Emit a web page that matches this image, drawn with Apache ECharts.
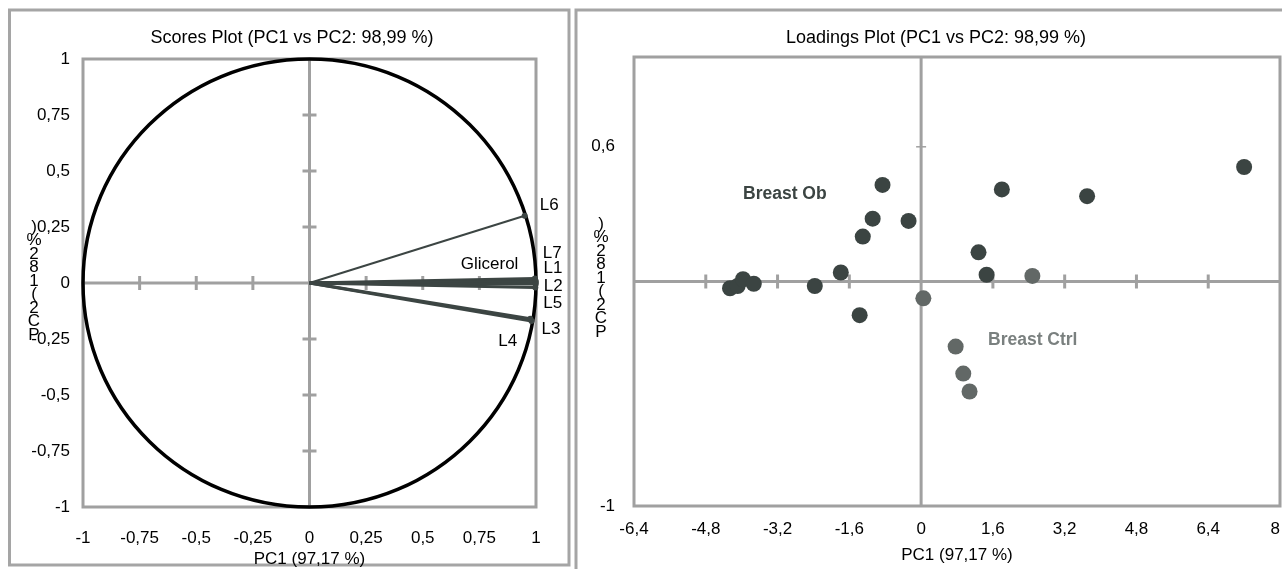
<!DOCTYPE html>
<html>
<head>
<meta charset="utf-8">
<title>PCA scores / loadings</title>
<script src="https://cdn.jsdelivr.net/npm/echarts@6/dist/echarts.min.js"></script>
<style>
  html, body { margin: 0; padding: 0; background: #fff; }
  #chart { width: 1282px; height: 569px; }
</style>
</head>
<body>
<div id="chart"></div>
<script>
// tick labels
var scoreTicks = [-1, -0.75, -0.5, -0.25, 0, 0.25, 0.5, 0.75, 1];
var loadXTicks = [-6.4, -4.8, -3.2, -1.6, 0, 1.6, 3.2, 4.8, 6.4, 8];
var loadYTicks = [-1, 0.6];

// scores plot: vectors from origin (PC1, PC2)
var vecNames = ['L6', 'L7', 'L1', 'Glicerol', 'L2', 'L5', 'L3', 'L4'];
var vecPC1 = [0.95, 0.995, 0.998, 0.999, 0.999, 0.997, 0.98, 0.975];
var vecPC2 = [0.30, 0.02, 0.01, 0.005, -0.005, -0.02, -0.17, -0.16];

// loadings plot: samples
var obPC1 = [-0.86, -1.08, -0.28, -1.30, -1.79, -2.37, -1.37, -4.26, -4.09, -3.97, -3.73, 7.2, 1.8, 3.7, 1.28, 1.46];
var obPC2 = [0.43, 0.28, 0.27, 0.20, 0.04, -0.02, -0.15, -0.03, -0.02, 0.01, -0.01, 0.51, 0.41, 0.38, 0.13, 0.03];
var ctrlPC1 = [0.05, 2.48, 0.77, 0.94, 1.08];
var ctrlPC2 = [-0.075, 0.025, -0.29, -0.41, -0.49];

var FONT = '"Liberation Sans", Arial, sans-serif'
  , GRAY = '#a0a0a0'
  , DARK = '#3b4442'
  , LIGHT = '#626866';

// label offsets for the vector names (px)
var labelShift = [[15, -10], [8, -25], [8, -12], [-75, -18], [8, 2], [8, 16], [10, 8], [-32, 22]];

var chart = echarts.init(document.getElementById('chart'));

function fmt(v) {
  return String(Math.round(v * 100) / 100).replace('.', ',');
}

function pairs(xs, ys) {
  return xs.map(function (x, i) { return [x, ys[i]]; });
}

function stacked(name) {
  // y-axis name is drawn with upright glyphs stacked bottom to top
  return name.replace(/[ ,]/g, '').split('').reverse().join('\n');
}

function xAxisOf(grid, ticks, margin, gap, alignMax) {
  return {
    gridIndex: grid, type: 'value',
    min: ticks[0], max: ticks[ticks.length - 1],
    axisLine: {show: false}, axisTick: {show: false}, splitLine: {show: false},
    axisLabel: {customValues: ticks, formatter: fmt, margin: margin, fontSize: 17, color: '#000', fontFamily: FONT,
      alignMaxLabel: alignMax || null},
    name: 'PC1 (97,17 %)', nameLocation: 'middle', nameGap: gap, nameMoveOverlap: false,
    nameTextStyle: {fontSize: 17, color: '#000', fontFamily: FONT}
  };
}

function yAxisOf(grid, ticks, margin) {
  return {
    gridIndex: grid, type: 'value', min: -1, max: 1,
    axisLine: {show: false}, axisTick: {show: false}, splitLine: {show: false},
    axisLabel: {customValues: ticks, formatter: fmt, margin: margin, fontSize: 17, color: '#000', fontFamily: FONT}
  };
}

// zero lines with small cross ticks
function crossAxes(grid, xTicks, yTicks, yRange, tk) {
  var xr = [xTicks[0], xTicks[xTicks.length - 1]];
  var inner = function (t, r) {
    return t.filter(function (v) { return v !== 0 && v !== r[0] && v !== r[1]; });
  };
  return {
    type: 'custom', xAxisIndex: grid, yAxisIndex: grid, silent: true, z: 1,
    data: [[0, 0]],
    renderItem: function (params, api) {
      var kids = [];
      var a = api.coord([xr[0], 0]), b = api.coord([xr[1], 0]);
      var c = api.coord([0, yRange[0]]), d = api.coord([0, yRange[1]]);
      kids.push({type: 'line', shape: {x1: a[0], y1: a[1], x2: b[0], y2: b[1]}, style: {stroke: GRAY, lineWidth: 3}});
      kids.push({type: 'line', shape: {x1: c[0], y1: c[1], x2: d[0], y2: d[1]}, style: {stroke: GRAY, lineWidth: 3}});
      inner(xTicks, xr).forEach(function (v) {
        var p = api.coord([v, 0]);
        kids.push({type: 'line', shape: {x1: p[0], y1: p[1] - tk[0], x2: p[0], y2: p[1] + tk[0]}, style: {stroke: GRAY, lineWidth: tk[1]}});
      });
      inner(yTicks, yRange).forEach(function (v) {
        var p = api.coord([0, v]);
        kids.push({type: 'line', shape: {x1: p[0] - tk[2], y1: p[1], x2: p[0] + tk[2], y2: p[1]}, style: {stroke: GRAY, lineWidth: tk[3]}});
      });
      return {type: 'group', children: kids};
    }
  };
}

function txt(x, y, text, extra) {
  var st = {text: text, fill: '#000', fontSize: 17, fontFamily: FONT,
    textAlign: 'center', textVerticalAlign: 'middle', align: 'center', verticalAlign: 'middle'};
  for (var k in extra) st[k] = extra[k];
  return {type: 'text', x: x, y: y, z: 10, style: st};
}

var option = {
  backgroundColor: '#fff',
  animation: false,
  grid: [
    {left: 83, top: 59, width: 453, height: 448, outerBoundsMode: 'none', show: true, borderColor: GRAY, borderWidth: 3, backgroundColor: 'transparent'},
    {left: 634, top: 57, width: 646, height: 449, outerBoundsMode: 'none', show: true, borderColor: GRAY, borderWidth: 3, backgroundColor: 'transparent'}
  ],
  xAxis: [xAxisOf(0, scoreTicks, 23, 44), xAxisOf(1, loadXTicks, 15, 41, 'right')],
  yAxis: [yAxisOf(0, scoreTicks, 13), yAxisOf(1, loadYTicks, 19)],
  graphic: [
    // panel frames
    {type: 'rect', shape: {x: 9.5, y: 10, width: 559.5, height: 555}, style: {fill: 'none', stroke: '#a5a5a5', lineWidth: 3}, z: 0},
    {type: 'rect', shape: {x: 576, y: 10, width: 720, height: 600}, style: {fill: 'none', stroke: '#a5a5a5', lineWidth: 3}, z: 0},
    txt(292, 38, 'Scores Plot (PC1 vs PC2: 98,99 %)', {fontSize: 18}),
    txt(936, 38, 'Loadings Plot (PC1 vs PC2: 98,99 %)', {fontSize: 18}),
    txt(34, 281, stacked('PC2 (1,82 %)'), {fontSize: 17, lineHeight: 13.5}),
    txt(601, 278, stacked('PC2 (1,82 %)'), {fontSize: 17, lineHeight: 13.5}),
    txt(743, 194, 'Breast Ob', {fontWeight: 'bold', fontSize: 17.5, fill: DARK, textAlign: 'left', align: 'left'}),
    txt(988, 340, 'Breast Ctrl', {fontWeight: 'bold', fontSize: 17.5, fill: '#7a807f', textAlign: 'left', align: 'left'})
  ],
  series: [
    crossAxes(0, scoreTicks, scoreTicks, [-1, 1], [7, 3, 7, 3]),
    crossAxes(1, loadXTicks, loadYTicks, [-1, 1], [7, 3, 5, 1.5]),
    {
      // unit circle
      type: 'custom', xAxisIndex: 0, yAxisIndex: 0, silent: true, z: 3,
      data: [[0, 0, 1]],
      renderItem: function (params, api) {
        var c = api.coord([api.value(0), api.value(1)]);
        var s = api.size([api.value(2), api.value(2)]);
        return {type: 'ellipse', shape: {cx: c[0], cy: c[1], rx: s[0], ry: s[1]}, style: {fill: 'none', stroke: '#000', lineWidth: 3.5}};
      }
    },
    {
      // variable vectors
      type: 'custom', xAxisIndex: 0, yAxisIndex: 0, silent: true, z: 4,
      data: vecNames.map(function (n, i) { return [vecPC1[i], vecPC2[i]]; }),
      renderItem: function (params, api) {
        var i = params.dataIndex;
        var o = api.coord([0, 0]);
        var p = api.coord([api.value(0), api.value(1)]);
        var sh = labelShift[i];
        return {type: 'group', children: [
          {type: 'line', shape: {x1: o[0], y1: o[1], x2: p[0], y2: p[1]}, style: {stroke: '#3c4543', lineWidth: i === 0 ? 2 : 3}},
          {type: 'circle', shape: {cx: p[0], cy: p[1], r: 3}, style: {fill: '#3c4543'}},
          {type: 'text', x: p[0] + sh[0], y: p[1] + sh[1], style: {text: vecNames[i], fill: '#000', fontSize: 17, fontFamily: FONT, align: 'left', verticalAlign: 'middle'}}
        ]};
      }
    },
    {
      name: 'Breast Ob', type: 'scatter', xAxisIndex: 1, yAxisIndex: 1, z: 5,
      symbolSize: 16, itemStyle: {color: DARK, opacity: 1},
      data: pairs(obPC1, obPC2)
    },
    {
      name: 'Breast Ctrl', type: 'scatter', xAxisIndex: 1, yAxisIndex: 1, z: 5,
      symbolSize: 16, itemStyle: {color: LIGHT, opacity: 1},
      data: pairs(ctrlPC1, ctrlPC2)
    }
  ]
};

chart.setOption(option);
</script>
</body>
</html>
